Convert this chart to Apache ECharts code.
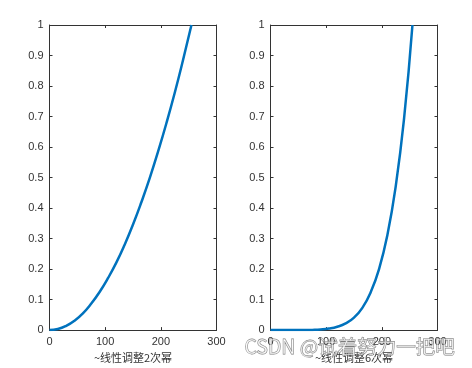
<!DOCTYPE html>
<html>
<head>
<meta charset="utf-8">
<script src="https://cdn.jsdelivr.net/npm/echarts@6/dist/echarts.min.js"></script>
<style>
  html, body { margin: 0; padding: 0; background: #fff; }
  #chart { width: 472px; height: 368px; }
</style>
</head>
<body>
<div id="chart"></div>
<script>
// gray level input (0..255)
var xs = [0, 15, 30, 45, 60, 75, 90, 105, 120, 135, 150, 165, 180, 195, 210, 225, 240, 255];
// values
var pow2 = [0, 0.0035, 0.014, 0.031, 0.055, 0.087, 0.125, 0.17, 0.221, 0.28, 0.346, 0.419, 0.498, 0.585, 0.678, 0.778, 0.886, 1.0];
// values
var pow6 = [0, 0, 0, 0, 0.0002, 0.0007, 0.002, 0.005, 0.011, 0.022, 0.041, 0.073, 0.124, 0.2, 0.312, 0.472, 0.695, 1.0];
var xTicks = [0, 100, 200, 300];
var titles = ['~线性调整2次幂', '~线性调整6次幂'];

var axisColor = '#333333';
var font = 'Liberation Sans, Arial, sans-serif';

function pairs(ys) {
    var out = [];
    for (var i = 0; i < xs.length; i++) out.push([xs[i], ys[i]]);
    return out;
}

function xAx(grid, pos, name) {
    return {
        type: 'value', gridIndex: grid, position: pos,
        min: xTicks[0], max: xTicks[xTicks.length - 1], interval: 100,
        name: name, nameLocation: 'middle', nameGap: 20,
        nameTextStyle: { color: axisColor, fontSize: 11, fontFamily: 'Noto Sans CJK SC' },
        axisLine: { show: true, onZero: false, lineStyle: { color: axisColor, width: 1 } },
        axisTick: { show: true, inside: true, length: 3, lineStyle: { color: axisColor } },
        axisLabel: { show: pos === 'bottom', color: axisColor, fontSize: 11, fontFamily: font, margin: 6 },
        splitLine: { show: false }
    };
}

function yAx(grid, pos) {
    return {
        type: 'value', gridIndex: grid, position: pos,
        min: 0, max: 1, interval: 0.1,
        axisLine: { show: true, onZero: false, lineStyle: { color: axisColor, width: 1 } },
        axisTick: { show: true, inside: true, length: 3, lineStyle: { color: axisColor } },
        axisLabel: { show: pos === 'left', color: axisColor, fontSize: 11, fontFamily: font, margin: 6 },
        splitLine: { show: false }
    };
}

function line(idx, ys) {
    return {
        type: 'line', xAxisIndex: idx * 2, yAxisIndex: idx * 2,
        data: pairs(ys), smooth: true, showSymbol: false,
        lineStyle: { color: '#0072BD', width: 2.5 }
    };
}

var myChart = echarts.init(document.getElementById('chart'));
myChart.setOption({
    backgroundColor: '#fff',
    animation: false,
    grid: [
        { left: 49.5, right: 255.5, top: 25, bottom: 37 },
        { left: 270.5, right: 34.5, top: 25, bottom: 37 }
    ],
    xAxis: [xAx(0, 'bottom', titles[0]), xAx(0, 'top', ''), xAx(1, 'bottom', titles[1]), xAx(1, 'top', '')],
    yAxis: [yAx(0, 'left'), yAx(0, 'right'), yAx(1, 'left'), yAx(1, 'right')],
    series: [line(0, pow2), line(1, pow6)],
    graphic: [{
        type: 'text', left: 244, top: 336, z: 100,
        style: {
            text: 'CSDN @试着努力一把吧',
            font: '19.5px "Noto Sans CJK SC"',
            fill: 'rgba(255,255,255,0.55)',
            stroke: 'rgba(100,100,100,0.85)',
            lineWidth: 0.8
        }
    }]
});
</script>
</body>
</html>
